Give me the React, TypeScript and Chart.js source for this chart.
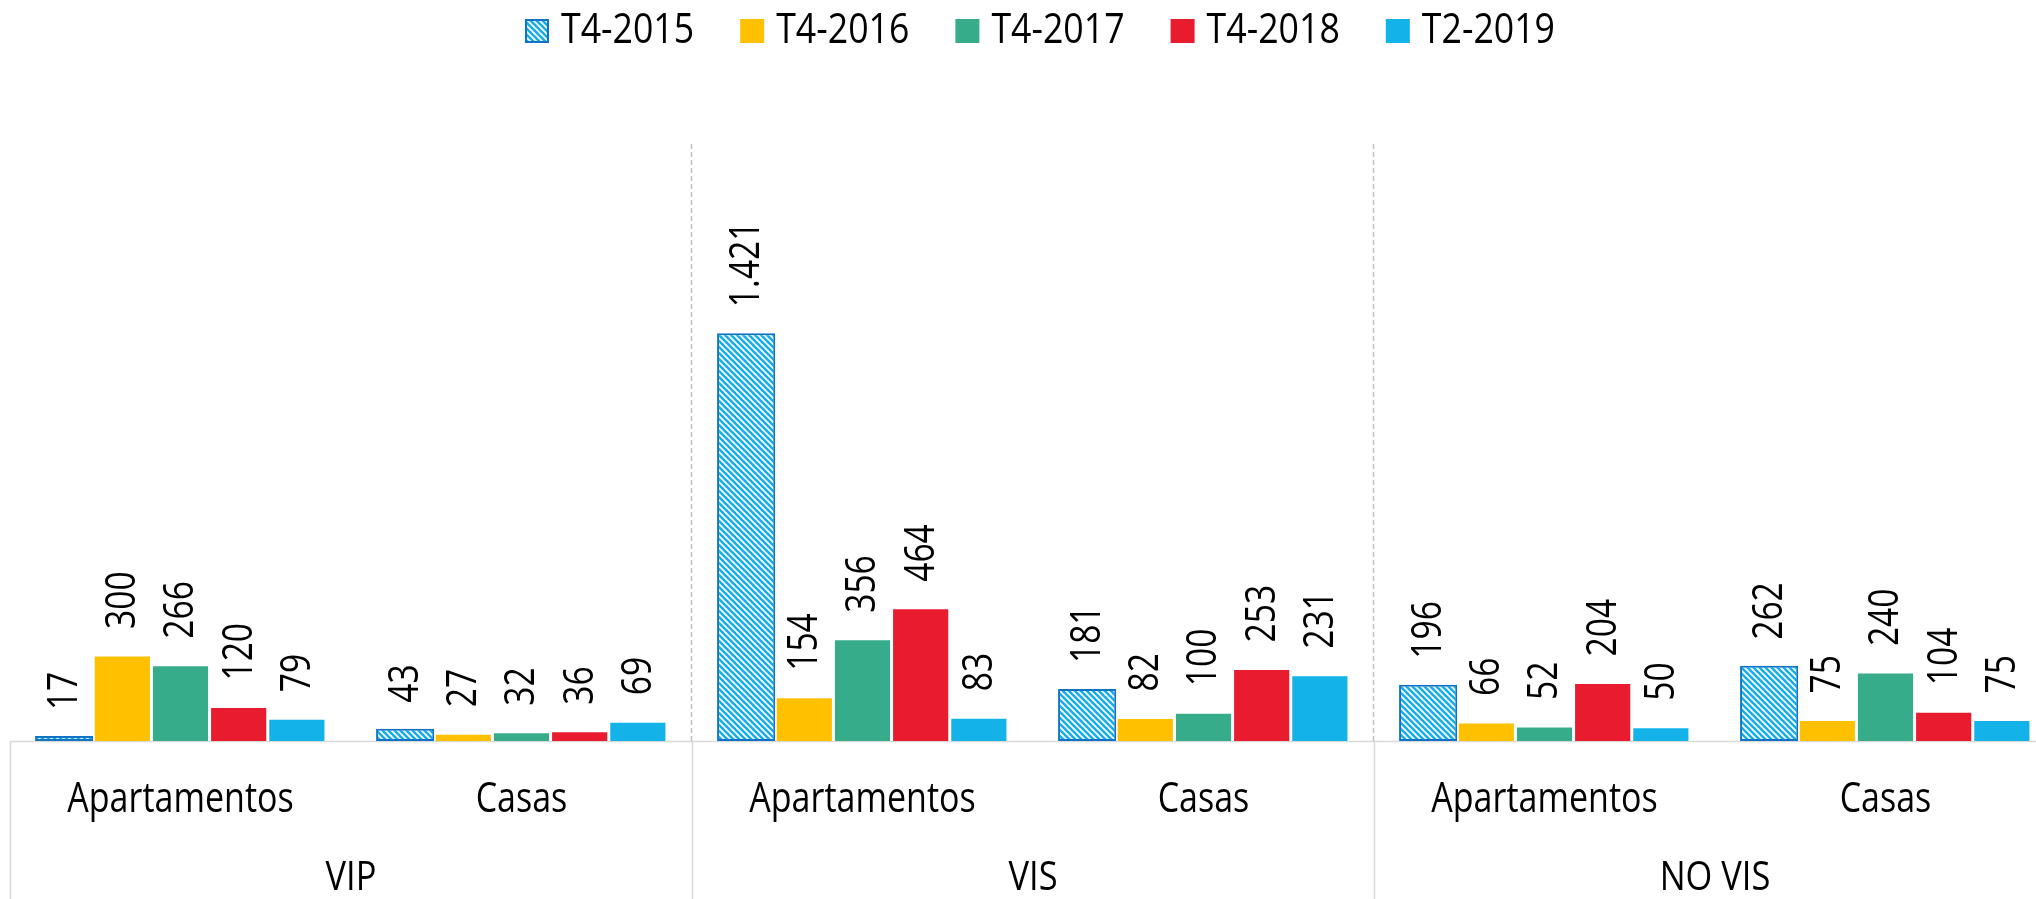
import React, { useEffect, useRef } from 'react';
import { Chart, registerables } from 'chart.js';

Chart.register(...registerables);

const categories = ['Apartamentos', 'Casas', 'Apartamentos', 'Casas', 'Apartamentos', 'Casas'];
const groups = ['VIP', 'VIS', 'NO VIS'];
const seriesLabels = ['T4-2015', 'T4-2016', 'T4-2017', 'T4-2018', 'T2-2019'];
const t4_2015 = [17, 43, 1421, 181, 196, 262];
const t4_2016 = [300, 27, 154, 82, 66, 75];
const t4_2017 = [266, 32, 356, 100, 52, 240];
const t4_2018 = [120, 36, 464, 253, 204, 104];
const t2_2019 = [79, 69, 83, 231, 50, 75];
const yMax = 2080;

const solidColors = ['#FFC000', '#36AC8B', '#E91B2E', '#13B2E9'];
const hatchColor = '#19ADE8';
const hatchBorder = '#1173C6';

const FONT = "'Open Sans', 'Noto Sans', sans-serif";

function fmt(v: number): string {
  return String(v).replace(/\B(?=(\d{3})+(?!\d))/g, '.');
}

function makeHatch(): CanvasPattern | string {
  const size = 6;
  const c = document.createElement('canvas');
  c.width = size;
  c.height = size;
  const g = c.getContext('2d');
  if (!g) return hatchColor;
  g.fillStyle = '#ffffff';
  g.fillRect(0, 0, size, size);
  g.strokeStyle = hatchColor;
  g.lineWidth = 2.6;
  g.beginPath();
  g.moveTo(-1, -1);
  g.lineTo(size + 1, size + 1);
  g.moveTo(-1, size - 1);
  g.lineTo(1, size + 1);
  g.moveTo(size - 1, -1);
  g.lineTo(size + 1, 1);
  g.stroke();
  return g.createPattern(c, 'repeat') || hatchColor;
}

function drawText(ctx: CanvasRenderingContext2D, text: string, x: number, y: number, align: CanvasTextAlign, sx: number) {
  ctx.save();
  ctx.translate(x, y);
  ctx.scale(sx, 1);
  ctx.textAlign = align;
  ctx.fillText(text, 0, 0);
  ctx.restore();
}

const decorPlugin = {
  id: 'decor',
  beforeDatasetsDraw(chart: any) {
    const { ctx, chartArea, scales } = chart;
    const x = scales.x;
    const H = chart.height;
    const base = chartArea.bottom + 0.5;
    ctx.save();
    ctx.strokeStyle = '#D9D9D9';
    ctx.lineWidth = 1.5;
    ctx.beginPath();
    ctx.moveTo(chartArea.left, base);
    ctx.lineTo(chartArea.right, base);
    ctx.stroke();
    const seps: number[] = [chartArea.left];
    for (let g = 1; g < groups.length; g++) {
      const i = g * 2;
      seps.push((x.getPixelForValue(i - 1) + x.getPixelForValue(i)) / 2);
    }
    ctx.beginPath();
    seps.forEach((sx) => {
      ctx.moveTo(sx + 0.5, base);
      ctx.lineTo(sx + 0.5, H);
    });
    ctx.stroke();
    ctx.strokeStyle = '#BFBFBF';
    ctx.setLineDash([5, 3]);
    ctx.beginPath();
    seps.slice(1).forEach((sx) => {
      ctx.moveTo(sx - 0.5, chartArea.top);
      ctx.lineTo(sx - 0.5, base);
    });
    ctx.stroke();
    ctx.restore();
  },
  afterDatasetsDraw(chart: any) {
    const { ctx, scales } = chart;
    const x = scales.x;
    ctx.save();
    ctx.fillStyle = '#000000';
    ctx.font = `42px ${FONT}`;
    chart.data.datasets.forEach((ds: any, di: number) => {
      const meta = chart.getDatasetMeta(di);
      meta.data.forEach((el: any, i: number) => {
        const v = ds.data[i];
        ctx.save();
        ctx.translate(el.x + 1, el.y - 26);
        ctx.rotate(-Math.PI / 2);
        ctx.scale(0.8, 1);
        ctx.textAlign = 'left';
        ctx.textBaseline = 'middle';
        ctx.fillText(fmt(v), 0, 0);
        ctx.restore();
      });
    });
    ctx.textBaseline = 'alphabetic';
    ctx.font = `42px ${FONT}`;
    categories.forEach((c, i) => {
      drawText(ctx, c, x.getPixelForValue(i), 812, 'center', 0.81);
    });
    ctx.font = `40px ${FONT}`;
    groups.forEach((g, gi) => {
      const cx = (x.getPixelForValue(gi * 2) + x.getPixelForValue(gi * 2 + 1)) / 2;
      drawText(ctx, g, cx, 890, 'center', 0.86);
    });
    ctx.restore();
  },
  afterDraw(chart: any) {
    const { ctx, chartArea } = chart;
    ctx.save();
    ctx.font = `42px ${FONT}`;
    ctx.textBaseline = 'alphabetic';
    const lsx = 0.85;
    const box = 24;
    const gapBox = 12;
    const gapItem = 46;
    const items = chart.data.datasets.map((ds: any) => ({
      label: ds.label,
      bg: ds.backgroundColor,
      border: ds.borderColor,
      hatched: ds.borderSkipped === false,
      w: box + gapBox + ctx.measureText(ds.label).width * lsx,
    }));
    const total = items.reduce((s: number, it: any) => s + it.w, 0) + gapItem * (items.length - 1);
    let cx = (chartArea.left + chartArea.right) / 2 + 7 - total / 2;
    items.forEach((it: any) => {
      ctx.fillStyle = it.bg;
      ctx.fillRect(cx, 19, box, box);
      if (it.hatched) {
        ctx.strokeStyle = it.border;
        ctx.lineWidth = 2;
        ctx.strokeRect(cx + 1, 20, box - 2, box - 2);
      }
      ctx.fillStyle = '#000000';
      drawText(ctx, it.label, cx + box + gapBox, 43, 'left', lsx);
      cx += it.w + gapItem;
    });
    ctx.restore();
  },
};

export default function App() {
  const ref = useRef<HTMLCanvasElement | null>(null);
  useEffect(() => {
    if (!ref.current) return;
    const hatch = makeHatch();
    const series = [t4_2015, t4_2016, t4_2017, t4_2018, t2_2019];
    const datasets = series.map((d, i) => {
      if (i === 0) {
        return {
          label: seriesLabels[i],
          data: d,
          backgroundColor: hatch,
          borderColor: hatchBorder,
          borderWidth: 2,
          borderSkipped: false,
          barPercentage: 1,
          categoryPercentage: 0.853,
        };
      }
      return {
        label: seriesLabels[i],
        data: d,
        backgroundColor: solidColors[i - 1],
        borderColor: '#ffffff',
        borderWidth: 1.5,
        barPercentage: 1,
        categoryPercentage: 0.853,
      };
    });
    const chart = new Chart(ref.current, {
      type: 'bar',
      data: { labels: categories, datasets: datasets as any },
      options: {
        animation: false,
        responsive: true,
        maintainAspectRatio: false,
        layout: { padding: { left: 10, right: 0, top: 144, bottom: 158 } },
        plugins: {
          legend: { display: false },
          tooltip: { enabled: false },
        },
        scales: {
          x: { display: false },
          y: { display: false, min: 0, max: yMax },
        },
      },
      plugins: [decorPlugin],
    });
    return () => chart.destroy();
  }, []);
  return (
    <div style={{ position: 'absolute', left: 0, top: 0, width: 2036, height: 899, overflow: 'hidden', background: '#fff' }}>
      <div style={{ position: 'relative', width: 2056, height: 899 }}>
        <canvas ref={ref} />
      </div>
    </div>
  );
}
